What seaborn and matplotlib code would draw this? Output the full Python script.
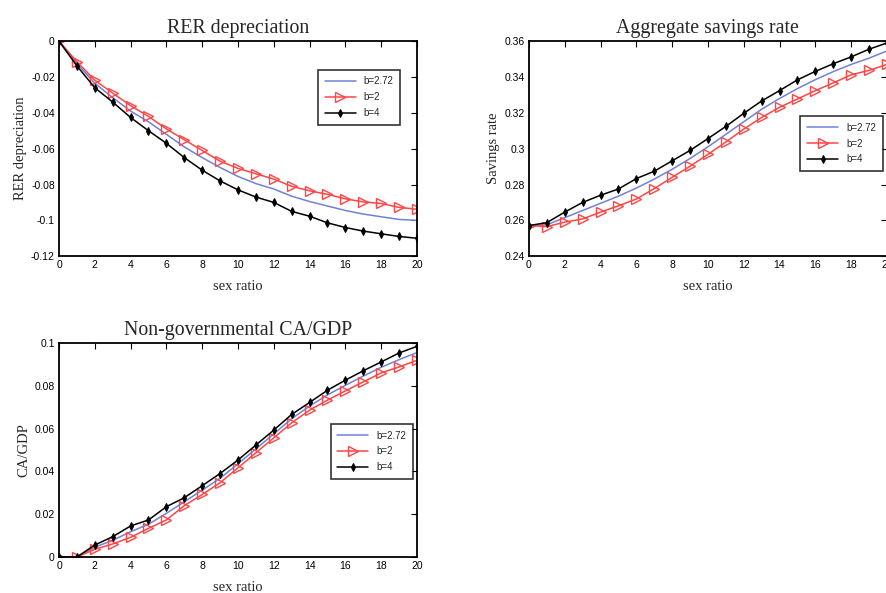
import numpy as np
import pandas as pd
import matplotlib
matplotlib.use("Agg")
import matplotlib.pyplot as plt
import seaborn as sns
from matplotlib.ticker import FuncFormatter

# sex ratio grid
sex_ratio = list(range(21))

# RER depreciation
rer_b272 = [0, -0.0125, -0.0235, -0.0315, -0.039, -0.045, -0.052, -0.059, -0.065, -0.0705,
            -0.0755, -0.0795, -0.0825, -0.0865, -0.0895, -0.092, -0.0945, -0.0965, -0.098,
            -0.0995, -0.1]
rer_b2 = [0, -0.0115, -0.0218, -0.029, -0.036, -0.042, -0.049, -0.055, -0.061, -0.067,
          -0.071, -0.074, -0.077, -0.081, -0.0835, -0.0855, -0.088, -0.0897, -0.0906,
          -0.0928, -0.0938]
rer_b4 = [0, -0.0138, -0.026, -0.034, -0.0426, -0.050, -0.057, -0.065, -0.072, -0.078,
          -0.083, -0.087, -0.090, -0.095, -0.0977, -0.1014, -0.104, -0.106, -0.1075,
          -0.109, -0.110]

# aggregate savings rate
sav_b272 = [0.2571, 0.2575, 0.2615, 0.2655, 0.2695, 0.2735, 0.278, 0.283, 0.2885, 0.2945,
            0.301, 0.308, 0.315, 0.322, 0.328, 0.3335, 0.3385, 0.343, 0.347, 0.3505, 0.3545]
sav_b2 = [0.2571, 0.2565, 0.259, 0.2608, 0.2646, 0.2681, 0.2719, 0.2777, 0.284, 0.2902,
          0.2968, 0.3037, 0.3109, 0.3174, 0.3231, 0.3277, 0.3324, 0.3367, 0.3412, 0.3437,
          0.347]
sav_b4 = [0.2571, 0.2587, 0.2646, 0.270, 0.274, 0.2775, 0.2833, 0.2874, 0.2932, 0.299,
          0.3056, 0.3124, 0.3197, 0.3266, 0.3324, 0.3384, 0.3431, 0.3474, 0.3512, 0.3555,
          0.359]

# non-governmental CA/GDP
ca_b272 = [0, 0, 0.0046, 0.0078, 0.0118, 0.0153, 0.0204, 0.0258, 0.0312, 0.0368, 0.0435,
           0.0505, 0.0575, 0.0646, 0.0705, 0.0757, 0.0802, 0.0845, 0.0886, 0.0922, 0.0955]
ca_b2 = [0, 0, 0.0036, 0.0061, 0.0092, 0.0134, 0.0173, 0.024, 0.0292, 0.0347, 0.0417,
         0.0487, 0.0557, 0.0627, 0.0686, 0.0733, 0.0776, 0.0818, 0.086, 0.0888, 0.0919]
ca_b4 = [0, 0, 0.0056, 0.0095, 0.0145, 0.0173, 0.0235, 0.0277, 0.0333, 0.039, 0.0453,
         0.0523, 0.0593, 0.0666, 0.0722, 0.0779, 0.0826, 0.087, 0.0911, 0.0953, 0.0984]

series_labels = ["b=2.72", "b=2", "b=4"]
x_ticks = list(range(0, 21, 2))

sns.set_style("white")
plt.rcParams["font.family"] = ["Liberation Sans", "DejaVu Sans"]

fig = plt.figure(figsize=(8.86, 5.93), dpi=100)

panels = [
    # title, ylabel, data, ylim, yticks, axes rect, legend anchor
    ("RER depreciation", "RER depreciation", (rer_b272, rer_b2, rer_b4), (-0.12, 0),
     np.arange(-0.12, 0.001, 0.02), [0.0666, 0.568, 0.404, 0.3626], (0.71, 0.89)),
    ("Aggregate savings rate", "Savings rate", (sav_b272, sav_b2, sav_b4), (0.24, 0.36),
     np.arange(0.24, 0.3601, 0.02), [0.597, 0.568, 0.404, 0.3626], (0.745, 0.675)),
    ("Non-governmental CA/GDP", "CA/GDP", (ca_b272, ca_b2, ca_b4), (0, 0.1),
     np.arange(0, 0.1001, 0.02), [0.0666, 0.0607, 0.404, 0.361], (0.745, 0.645)),
]

styles = [
    dict(color="#6f82d8", linewidth=1.1),
    dict(color="#ff4545", linewidth=1.1, marker=">", markersize=7,
         markerfacecolor="none", markeredgecolor="#ff4545", markeredgewidth=1.0),
    dict(color="black", linewidth=1.1, marker="d", markersize=3.8,
         markerfacecolor="black", markeredgecolor="black"),
]

fmt = FuncFormatter(lambda v, p: f"{round(v, 4):g}" if abs(v) > 1e-9 else "0")

for title, ylabel, data, ylim, yticks, rect, anchor in panels:
    ax = fig.add_axes(rect)
    for vals, lab, st in zip(data, series_labels, styles):
        sns.lineplot(x=sex_ratio, y=vals, label=lab, ax=ax, **st)
    ax.set_xlim(0, 20)
    ax.set_ylim(*ylim)
    ax.set_xticks(x_ticks)
    ax.set_yticks(yticks)
    ax.yaxis.set_major_formatter(fmt)
    ax.tick_params(direction="in", top=True, right=True, labelsize=7.5, length=4, width=0.8,
                   colors="black", pad=3)
    for s in ax.spines.values():
        s.set_color("black")
        s.set_linewidth(1.3)
    ax.set_title(title, family="Liberation Serif", fontsize=14.3, pad=6)
    ax.set_xlabel("sex ratio", family="Liberation Serif", fontsize=10.5, labelpad=7)
    ax.set_ylabel(ylabel, family="Liberation Serif", fontsize=10.5, labelpad=3)
    leg = ax.legend(loc="upper left", bbox_to_anchor=anchor, fontsize=7, frameon=True,
                    fancybox=False, edgecolor="black", handlelength=3.2, borderpad=0.7,
                    labelspacing=0.6)
    leg.get_frame().set_linewidth(1.2)

fig.savefig("out.png", dpi=100, facecolor="white")
